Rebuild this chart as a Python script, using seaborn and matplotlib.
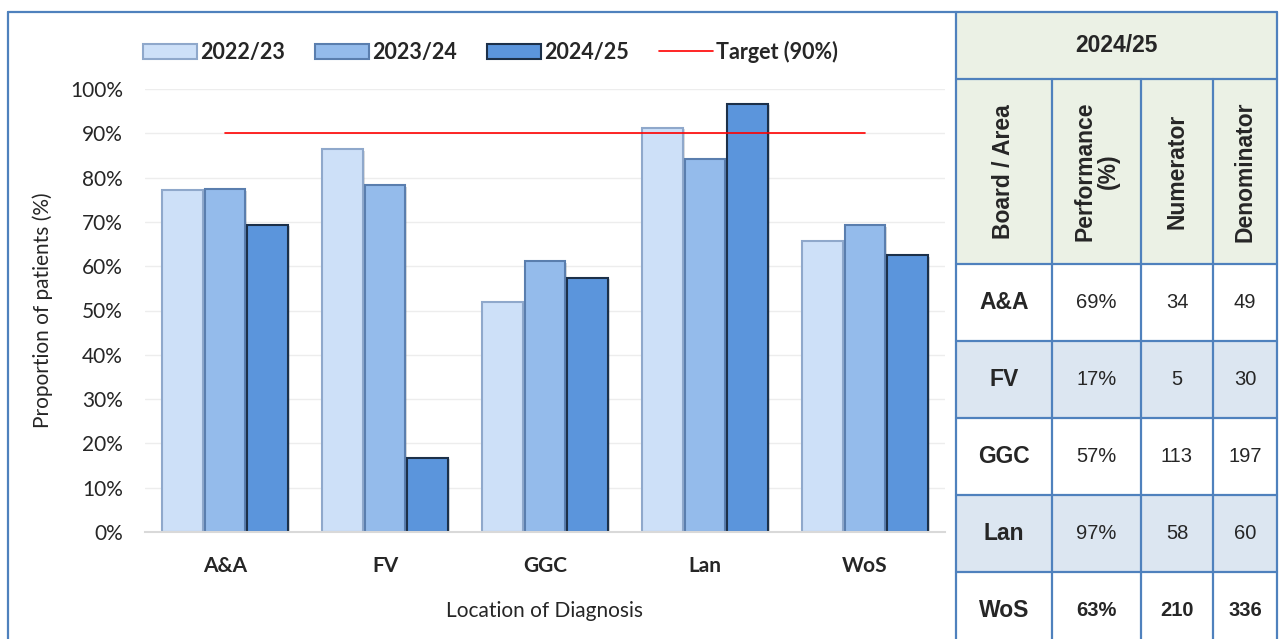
import numpy as np
import pandas as pd
import matplotlib
matplotlib.use("Agg")
import matplotlib.pyplot as plt
import seaborn as sns
from matplotlib.patches import Patch, Rectangle
from matplotlib.lines import Line2D
import matplotlib.patheffects as pe

# ---------------- data ----------------
categories = ["A&A", "FV", "GGC", "Lan", "WoS"]
years = ["2022/23", "2023/24", "2024/25"]
values_2022_23 = [77.2, 86.4, 51.9, 91.3, 65.7]
values_2023_24 = [77.4, 78.3, 61.1, 84.3, 69.2]
values_2024_25 = [69.4, 16.7, 57.4, 96.7, 62.5]
target_values = [90, 90, 90, 90, 90]
target_label = "Target (90%)"

table_title = "2024/25"
table_headers = ["Board / Area", "Performance\n(%)", "Numerator", "Denominator"]
table_boards = ["A&A", "FV", "GGC", "Lan", "WoS"]
table_perf = ["69%", "17%", "57%", "97%", "63%"]
table_num = ["34", "5", "113", "58", "210"]
table_den = ["49", "30", "197", "60", "336"]

df = pd.DataFrame({
    "Location": categories * 3,
    "Year": [years[0]] * 5 + [years[1]] * 5 + [years[2]] * 5,
    "Value": values_2022_23 + values_2023_24 + values_2024_25,
})

# ---------------- style ----------------
sns.set_theme(style="white")
plt.rcParams["font.family"] = ["Lato", "DejaVu Sans"]

face_colors = ["#CDE0F8", "#94BBEB", "#5B95DC"]
edge_colors = ["#8FA8CB", "#5A7EAE", "#1C3049"]
frame_blue = "#4F81BD"
W, H = 1279, 639

fig = plt.figure(figsize=(W / 100, H / 100), dpi=100)
fig.patch.set_facecolor("white")

# overlay axes in pixel coordinates (frame + table)
ov = fig.add_axes([0, 0, 1, 1], zorder=0)
ov.set_xlim(0, W)
ov.set_ylim(H, 0)
ov.axis("off")

# chart axes
ax = fig.add_axes([145 / W, (H - 532) / H, 800 / W, 443 / H], zorder=1)
ax.patch.set_alpha(0)

sns.barplot(data=df, x="Location", y="Value", hue="Year", order=categories,
            hue_order=years, palette=face_colors, width=0.8, gap=0.05,
            ax=ax, legend=False, saturation=1)

for i, cont in enumerate(ax.containers):
    for bar in cont:
        bar.set_edgecolor(edge_colors[i])
        bar.set_linewidth(1.5)
        bar.set_path_effects([pe.SimplePatchShadow(offset=(1.5, -1.0), alpha=0.18),
                              pe.Normal()])

ax.plot(np.arange(len(categories)), target_values, color="#FF0000", lw=1.2, zorder=5)

ax.set_xlim(-0.5, len(categories) - 0.5)
ax.set_ylim(0, 100)
ax.set_yticks(np.arange(0, 101, 10))
ax.set_yticklabels([f"{v}%" for v in range(0, 101, 10)], fontsize=15)
ax.yaxis.grid(True, color="#EDEDED", lw=1.0)
ax.set_axisbelow(True)

# category boundaries as major ticks, labels as minor ticks
ax.set_xticks(np.arange(-0.5, len(categories), 1.0))
ax.set_xticklabels([])
ax.set_xticks(np.arange(len(categories)), minor=True)
ax.set_xticklabels(categories, minor=True, fontsize=15, fontweight="bold")
ax.tick_params(axis="x", which="major", direction="inout", length=11,
               color="#D9D9D9", width=1.5)
ax.tick_params(axis="x", which="minor", length=0, pad=17)
ax.tick_params(axis="y", length=0, pad=16)

for s in ["top", "right", "left"]:
    ax.spines[s].set_visible(False)
ax.spines["bottom"].set_color("#D9D9D9")
ax.spines["bottom"].set_linewidth(1.5)

ax.set_xlabel("Location of Diagnosis", fontsize=15, labelpad=18)
ax.set_ylabel("Proportion of patients (%)", fontsize=15, labelpad=12)

# legend
handles = [Patch(facecolor=face_colors[i], edgecolor=edge_colors[i], lw=1.5) for i in range(3)]
handles.append(Line2D([0], [0], color="#FF0000", lw=1.2))
fig.legend(handles, years + [target_label], loc="center left",
           bbox_to_anchor=(143 / W, 1 - 52 / H), ncol=4, frameon=False,
           prop={"family": ["Lato", "DejaVu Sans"], "weight": "bold", "size": 15.5},
           handlelength=2.5, handleheight=0.75, handletextpad=0.15,
           columnspacing=1.4, borderpad=0, borderaxespad=0)

# chart panel frame
lw_frame = 1.6
ov.plot([8, 8], [12, H + 10], color=frame_blue, lw=lw_frame)
ov.plot([8, 956], [12, 12], color=frame_blue, lw=lw_frame)

# ---------------- table ----------------
col_x = [956, 1052, 1141, 1213, 1277]
row_y = [12, 79, 264, 341, 418, 495, 572, 649]
header_fill = "#EBF1E5"
alt_fill = "#DCE6F1"

ov.add_patch(Rectangle((col_x[0], row_y[0]), col_x[-1] - col_x[0], row_y[2] - row_y[0],
                       facecolor=header_fill, edgecolor="none"))
for r in (1, 3):
    ov.add_patch(Rectangle((col_x[0], row_y[2 + r]), col_x[-1] - col_x[0],
                           row_y[3 + r] - row_y[2 + r], facecolor=alt_fill, edgecolor="none"))

for y in row_y[:-1]:
    ov.plot([col_x[0], col_x[-1]], [y, y], color=frame_blue, lw=lw_frame)
for j, x in enumerate(col_x):
    y0 = row_y[0] if j in (0, len(col_x) - 1) else row_y[1]
    ov.plot([x, x], [y0, row_y[-1]], color=frame_blue, lw=lw_frame)

tfont = ["Liberation Sans", "DejaVu Sans"]
ov.text((col_x[0] + col_x[-1]) / 2, (row_y[0] + row_y[1]) / 2, table_title,
        ha="center", va="center", fontsize=16.5, fontweight="bold", family=tfont)
for j, h in enumerate(table_headers):
    ov.text((col_x[j] + col_x[j + 1]) / 2, (row_y[1] + row_y[2]) / 2, h,
            ha="center", va="center", rotation=90, fontsize=16.5, fontweight="bold",
            family=tfont, linespacing=1.0)

for i in range(len(table_boards)):
    yc = (row_y[2 + i] + row_y[3 + i]) / 2
    last = i == len(table_boards) - 1
    cells = [table_boards[i], table_perf[i], table_num[i], table_den[i]]
    for j, c in enumerate(cells):
        bold = (j == 0) or last
        ov.text((col_x[j] + col_x[j + 1]) / 2, yc, c, ha="center", va="center",
                fontsize=16.5 if j == 0 else 14.5,
                fontweight="bold" if bold else "normal", family=tfont)

fig.savefig("out.png", dpi=100, facecolor="white")
